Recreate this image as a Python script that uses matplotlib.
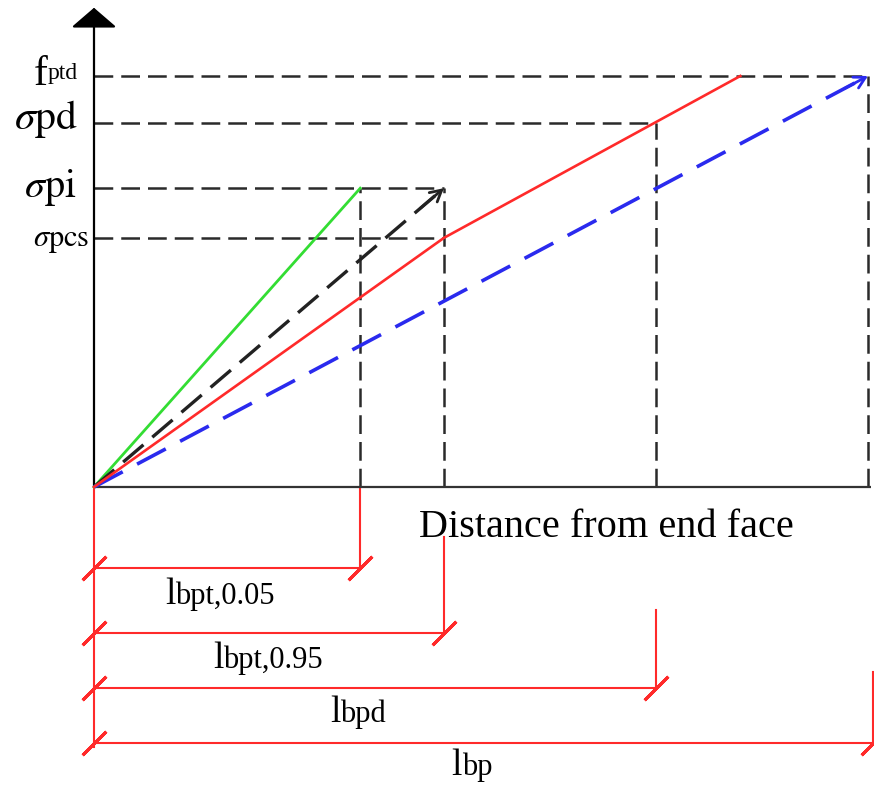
import matplotlib
matplotlib.use("Agg")
import matplotlib.pyplot as plt

plt.rcParams['font.family'] = ['Liberation Serif', 'DejaVu Serif']
plt.rcParams['mathtext.fontset'] = 'stix'

# ---- data (normalised: lbp = 1, fptd = 1) ----
x_lengths = [0.344, 0.452, 0.726, 1.0]          # lbpt,0.05  lbpt,0.95  lbpd  lbp
length_names = ["bpt,0.05", "bpt,0.95", "bpd", "bp"]
stress_levels = [1.0, 0.886, 0.727, 0.606]       # fptd, σpd, σpi, σpcs
red_x = [0.0, 0.452, 0.835]
red_y = [0.0, 0.606, 1.0]
green_x = [0.0, 0.344]
green_y = [0.0, 0.727]
black_x = [0.0, 0.452]
black_y = [0.0, 0.727]
blue_x = [0.0, 1.0]
blue_y = [0.0, 1.0]

fig = plt.figure(figsize=(8.74, 7.85), dpi=100)
ax = fig.add_axes([0, 0, 1, 1])
ax.set_xlim(-94 / 774, (874 - 94) / 774)
ax.set_ylim(-298 / 411, 487 / 411)
ax.axis('off')

lw_axis = 1.6
# axes
ax.plot([0, 1.004], [0, 0], color='#333333', lw=lw_axis, solid_capstyle='butt', zorder=3)
ax.annotate('', xy=(0, 1.166), xytext=(0, 0),
            arrowprops=dict(arrowstyle='-|>,head_length=0.62,head_width=0.72',
                            mutation_scale=20, color='black', lw=lw_axis,
                            shrinkA=0, shrinkB=0), zorder=3)

# guide dashed lines
guide_x = [1.0, 0.726, 0.452, 0.452]
for lev, gx in zip(stress_levels, guide_x):
    ax.plot([0, gx], [lev, lev], color='#2a2a2a', lw=1.8, dashes=(7.5, 3.2), zorder=2)
guide_top = [0.727, 0.727, 0.886, 1.0]
for xv, top in zip(x_lengths, guide_top):
    ax.plot([xv, xv], [0, top], color='#2a2a2a', lw=1.8, dashes=(7.5, 3.2), zorder=2)

# curves
ax.plot(green_x, green_y, color='#33dd33', lw=2.0, zorder=4)
ax.plot(black_x, black_y, color='#222222', lw=2.4, dashes=(8, 3.5), zorder=4)
ax.plot(blue_x, blue_y, color='#2a2aee', lw=2.6, dashes=(9, 4.5), zorder=4)
ax.plot(red_x, red_y, color='#ff2a2a', lw=1.9, zorder=5)
for xs, ys, c in [(black_x, black_y, '#222222'), (blue_x, blue_y, '#2a2aee')]:
    ax.annotate('', xy=(xs[1], ys[1]), xytext=(xs[1] - 0.03, ys[1] - 0.03 * ys[1] / xs[1]),
                arrowprops=dict(arrowstyle='->,head_length=0.4,head_width=0.22', mutation_scale=20,
                                color=c, lw=2.0, shrinkA=0, shrinkB=0), zorder=4)

# y labels
red = '#ff2a2a'
ax.text(-46 / 774, (487 - 85) / 411, 'f', ha='right', va='baseline', fontsize=30)
ax.text(-46 / 774, (487 - 79) / 411, 'ptd', ha='left', va='baseline', fontsize=17)
ax.text(-16 / 774, (487 - 129) / 411, r'$\sigma\mathrm{pd}$', ha='right', va='baseline', fontsize=30)
ax.text(-18 / 774, (487 - 197) / 411, r'$\sigma\mathrm{pi}$', ha='right', va='baseline', fontsize=29)
ax.text(-5 / 774, (487 - 246) / 411, r'$\sigma\mathrm{pcs}$', ha='right', va='baseline', fontsize=22)

# x-axis title
ax.text((419 - 94) / 774, (487 - 537) / 411, 'Distance from end face', ha='left', va='baseline', fontsize=29)

# dimension lines
dim_y = [-0.197, -0.355, -0.489, -0.623]
dim_end = [0.344, 0.452, 0.726, 1.006]
dim_top = [0.0, -0.122, -0.299, -0.450]
label_x = [0.105, 0.167, 0.318, 0.475]
label_y = [-0.284, -0.440, -0.572, -0.700]
ax.plot([0, 0], [0, dim_y[-1] - 0.01], color=red, lw=1.5, zorder=3)
for yv, xe, top, lx, ly, name in zip(dim_y, dim_end, dim_top, label_x, label_y, length_names):
    ax.plot([0, xe], [yv, yv], color=red, lw=1.5)
    ax.plot([xe, xe], [top, yv], color=red, lw=1.5)
    ax.plot([0, xe], [yv, yv], linestyle='none', marker=(2, 2, -45), ms=24, mew=2.2, color=red)
    ax.text(lx, ly, 'l', ha='right', va='baseline', fontsize=27)
    ax.text(lx, ly, name, ha='left', va='baseline', fontsize=22)

fig.savefig('out.png', dpi=100)
